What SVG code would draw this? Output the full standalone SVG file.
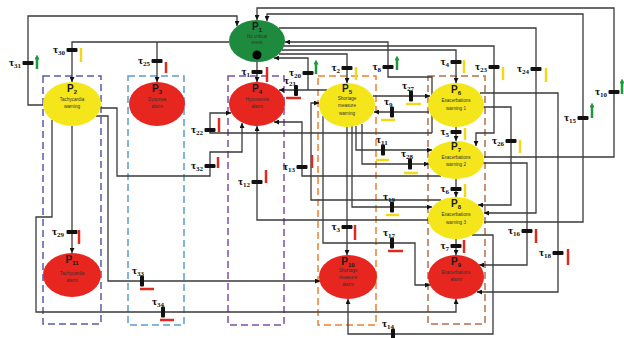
<svg xmlns="http://www.w3.org/2000/svg" width="624" height="338" viewBox="0 0 624 338">
<defs>
<marker id="ar" viewBox="0 0 6 6" refX="6" refY="3" markerWidth="5" markerHeight="5" orient="auto" markerUnits="userSpaceOnUse"><path d="M0,0 L6,3 L0,6 z" fill="#111"/></marker>
<marker id="ga" viewBox="0 0 6 6" refX="3" refY="3" markerWidth="5" markerHeight="5" orient="auto" markerUnits="userSpaceOnUse"><path d="M0,0 L6,3 L0,6 z" fill="#1f9a3a"/></marker>
</defs>
<style>
.c{fill:none;stroke:#3a3a3a;stroke-width:1.3;marker-end:url(#ar)}
.bar{fill:#111}
.t{font-family:"Liberation Serif",serif;font-weight:bold;font-size:11px;fill:#111}
.ts{font-size:7px}
.g{stroke:#1f9a3a;stroke-width:2.5;fill:none;marker-end:url(#ga)}
.y{stroke:#f2d81a;stroke-width:2.5;fill:none}
.r{stroke:#e02a20;stroke-width:2.5;fill:none}
.pl{font-family:"Liberation Sans",sans-serif;font-weight:bold;font-size:10px;fill:#1a1a1a;text-anchor:middle}
.ps{font-size:6px}
.sub{font-family:"Liberation Sans",sans-serif;font-size:4.6px;fill:#333;text-anchor:middle}
.box{fill:none;stroke-width:1.5;stroke-dasharray:7 4}
.green{fill:#1e8a3e}
.yel{fill:#f5e61c}
.red{fill:#e6261f}
</style>
<rect width="624" height="338" fill="#fff"/>
<g id="boxes">
<rect class="box" x="43" y="76" width="58" height="248" stroke="#5a5aa8"/>
<rect class="box" x="128" y="76" width="56" height="249" stroke="#5b9bd5"/>
<rect class="box" x="228" y="76" width="56" height="249" stroke="#7a4fb0"/>
<rect class="box" x="318" y="76" width="58" height="249" stroke="#f08030"/>
<rect class="box" x="428" y="76" width="57" height="248" stroke="#b5704a"/>
</g>
<g id="connectors">
<path class="c" d="M43,105 H28 V16 H237 V26"/>
<path class="c" d="M229,42 H72 V82"/>
<path class="c" d="M157,42 V82"/>
<path class="c" d="M257,62 V82"/>
<path class="c" d="M308,90 V58 H274"/>
<path class="c" d="M327,90 H279"/>
<path class="c" d="M279,54 H347 V83"/>
<path class="c" d="M432,133 V77 H388 V42 H285"/>
<path class="c" d="M282,50 H456 V83"/>
<path class="c" d="M284,46 H494 V133 H476 V146"/>
<path class="c" d="M279,28 H536 V213 H484"/>
<path class="c" d="M484,222 H583 V14 H267 V21"/>
<path class="c" d="M484,157 H614 V8 H257 V20"/>
<path class="c" d="M373,96 H430"/>
<path class="c" d="M429,112 H374"/>
<path class="c" d="M456,127 V141"/>
<path class="c" d="M456,179 V197"/>
<path class="c" d="M456,239 V255"/>
<path class="c" d="M483,107 H511 V205 H478"/>
<path class="c" d="M480,93 H558 V292 H477"/>
<path class="c" d="M483,163 H527 V265 H479"/>
<path class="c" d="M472,235 H493 V334 H348 V299"/>
<path class="c" d="M356,126 V150 H432"/>
<path class="c" d="M362,124 V164 H429"/>
<path class="c" d="M352,126 V207 H432"/>
<path class="c" d="M347,127 V255"/>
<path class="c" d="M428,220 H257 V126"/>
<path class="c" d="M441,176 H302 V122 H274"/>
<path class="c" d="M432,133 H210 V113 H231"/>
<path class="c" d="M100,108 H117 V176 H210 V152 H242 V123"/>
<path class="c" d="M96,116 H108 V281 H320"/>
<path class="c" d="M52,120 V217 H36 V312 H456 V299"/>
<path class="c" d="M72,126 V253"/>
<path class="c" d="M323,116 V243 H415 V285 H430"/>
<path class="c" d="M441,200 H311 V103 H319"/>
</g>
<g id="P1"><ellipse class="green" cx="257" cy="41" rx="28" ry="21"/><text class="pl" x="257" y="30">P<tspan class="ps" dy="2">1</tspan></text><text class="sub" x="257" y="38">No critical</text><text class="sub" x="257" y="44">event</text><circle cx="257" cy="55" r="4.5" fill="#000"/></g>
<g id="P2"><ellipse class="yel" cx="72" cy="104" rx="29" ry="22"/><text class="pl" x="72" y="92">P<tspan class="ps" dy="2">2</tspan></text><text class="sub" x="72" y="101">Tachycardia</text><text class="sub" x="72" y="108">warning</text></g>
<g id="P3"><ellipse class="red" cx="157" cy="104" rx="28" ry="22"/><text class="pl" x="157" y="92">P<tspan class="ps" dy="2">3</tspan></text><text class="sub" x="157" y="101">Dyspnea</text><text class="sub" x="157" y="108">alarm</text></g>
<g id="P4"><ellipse class="red" cx="257" cy="104" rx="28" ry="22"/><text class="pl" x="257" y="92">P<tspan class="ps" dy="2">4</tspan></text><text class="sub" x="257" y="101">Hypoxemia</text><text class="sub" x="257" y="108">alarm</text></g>
<g id="P5"><ellipse class="yel" cx="347" cy="105" rx="28" ry="22"/><text class="pl" x="347" y="92">P<tspan class="ps" dy="2">5</tspan></text><text class="sub" x="347" y="100">Shortage</text><text class="sub" x="347" y="107">measure</text><text class="sub" x="347" y="115">warning</text></g>
<g id="P6"><ellipse class="yel" cx="456" cy="105" rx="28" ry="22"/><text class="pl" x="456" y="93">P<tspan class="ps" dy="2">6</tspan></text><text class="sub" x="456" y="102">Exacerbations</text><text class="sub" x="456" y="110">warning 1</text></g>
<g id="P7"><ellipse class="yel" cx="456" cy="160" rx="28" ry="19"/><text class="pl" x="456" y="150">P<tspan class="ps" dy="2">7</tspan></text><text class="sub" x="456" y="159">Exacerbations</text><text class="sub" x="456" y="166">warning 2</text></g>
<g id="P8"><ellipse class="yel" cx="456" cy="218" rx="28" ry="21"/><text class="pl" x="456" y="207">P<tspan class="ps" dy="2">8</tspan></text><text class="sub" x="456" y="216">Exacerbations</text><text class="sub" x="456" y="224">warning 3</text></g>
<g id="P9"><ellipse class="red" cx="456" cy="277" rx="28" ry="22"/><text class="pl" x="456" y="265">P<tspan class="ps" dy="2">9</tspan></text><text class="sub" x="456" y="274">Exacerbations</text><text class="sub" x="456" y="281">alarm</text></g>
<g id="P10"><ellipse class="red" cx="348" cy="277" rx="29" ry="22"/><text class="pl" x="348" y="265">P<tspan class="ps" dy="2">10</tspan></text><text class="sub" x="348" y="272">Shortage</text><text class="sub" x="348" y="279">measure</text><text class="sub" x="348" y="286">alarm</text></g>
<g id="P11"><ellipse class="red" cx="72" cy="275" rx="29" ry="22"/><text class="pl" x="72" y="263">P<tspan class="ps" dy="2">11</tspan></text><text class="sub" x="72" y="275">Tachycardia</text><text class="sub" x="72" y="282">alarm</text></g>
<g id="T31"><rect class="bar" x="22.5" y="61" width="11" height="4" rx="1"/><text class="t" x="21" y="66" text-anchor="end">τ<tspan class="ts" dy="2">31</tspan></text><path class="g" d="M37,69 V57"/></g>
<g id="T30"><rect class="bar" x="66.5" y="48" width="11" height="4" rx="1"/><text class="t" x="65" y="53" text-anchor="end">τ<tspan class="ts" dy="2">30</tspan></text><path class="y" d="M81,48 V62"/></g>
<g id="T25"><rect class="bar" x="151.5" y="59" width="11" height="4" rx="1"/><text class="t" x="150" y="64" text-anchor="end">τ<tspan class="ts" dy="2">25</tspan></text><path class="r" d="M166,62 V73"/></g>
<g id="T1"><rect class="bar" x="251.5" y="70" width="11" height="4" rx="1"/><text class="t" x="250" y="75" text-anchor="end">τ<tspan class="ts" dy="2">1</tspan></text><path class="r" d="M267,67 V82"/></g>
<g id="T20"><rect class="bar" x="302.5" y="71" width="11" height="4" rx="1"/><text class="t" x="301" y="76" text-anchor="end">τ<tspan class="ts" dy="2">20</tspan></text><path class="g" d="M316,74 V62"/></g>
<g id="T21"><rect class="bar" x="294" y="85" width="4" height="11" rx="1"/><text class="t" x="284" y="84">τ<tspan class="ts" dy="2">21</tspan></text><path class="r" d="M286,98 H301"/></g>
<g id="T2"><rect class="bar" x="341.5" y="66" width="11" height="4" rx="1"/><text class="t" x="340" y="71" text-anchor="end">τ<tspan class="ts" dy="2">2</tspan></text><path class="y" d="M356,67 V80"/></g>
<g id="T8"><rect class="bar" x="382.5" y="65" width="11" height="4" rx="1"/><text class="t" x="381" y="70" text-anchor="end">τ<tspan class="ts" dy="2">8</tspan></text><path class="g" d="M397,70 V58"/></g>
<g id="T4"><rect class="bar" x="450.5" y="60" width="11" height="4" rx="1"/><text class="t" x="449" y="65" text-anchor="end">τ<tspan class="ts" dy="2">4</tspan></text><path class="y" d="M464,60 V73"/></g>
<g id="T23"><rect class="bar" x="488.5" y="65" width="11" height="4" rx="1"/><text class="t" x="487" y="70" text-anchor="end">τ<tspan class="ts" dy="2">23</tspan></text><path class="y" d="M503,67 V80"/></g>
<g id="T24"><rect class="bar" x="530.5" y="67" width="11" height="4" rx="1"/><text class="t" x="529" y="72" text-anchor="end">τ<tspan class="ts" dy="2">24</tspan></text><path class="y" d="M546,68 V82"/></g>
<g id="T15"><rect class="bar" x="577.5" y="116" width="11" height="4" rx="1"/><text class="t" x="576" y="121" text-anchor="end">τ<tspan class="ts" dy="2">15</tspan></text><path class="g" d="M592,118 V105"/></g>
<g id="T10"><rect class="bar" x="608.5" y="90" width="11" height="4" rx="1"/><text class="t" x="607" y="95" text-anchor="end">τ<tspan class="ts" dy="2">10</tspan></text><path class="g" d="M622,94 V81"/></g>
<g id="T27"><rect class="bar" x="409" y="90.5" width="4" height="11" rx="1"/><text class="t" x="402" y="89">τ<tspan class="ts" dy="2">27</tspan></text><path class="y" d="M406,104 H421"/></g>
<g id="T9"><rect class="bar" x="390" y="106.5" width="4" height="11" rx="1"/><text class="t" x="384" y="105">τ<tspan class="ts" dy="2">9</tspan></text><path class="y" d="M381,120 H395"/></g>
<g id="T5"><rect class="bar" x="450.5" y="130" width="11" height="4" rx="1"/><text class="t" x="449" y="135" text-anchor="end">τ<tspan class="ts" dy="2">5</tspan></text><path class="y" d="M465,128 V140"/></g>
<g id="T6"><rect class="bar" x="450.5" y="187" width="11" height="4" rx="1"/><text class="t" x="449" y="192" text-anchor="end">τ<tspan class="ts" dy="2">6</tspan></text><path class="y" d="M465,184 V197"/></g>
<g id="T7"><rect class="bar" x="450.5" y="244" width="11" height="4" rx="1"/><text class="t" x="449" y="249" text-anchor="end">τ<tspan class="ts" dy="2">7</tspan></text><path class="r" d="M464,240 V253"/></g>
<g id="T26"><rect class="bar" x="505.5" y="139" width="11" height="4" rx="1"/><text class="t" x="504" y="144" text-anchor="end">τ<tspan class="ts" dy="2">26</tspan></text><path class="y" d="M520,140 V153"/></g>
<g id="T16"><rect class="bar" x="521.5" y="229" width="11" height="4" rx="1"/><text class="t" x="520" y="234" text-anchor="end">τ<tspan class="ts" dy="2">16</tspan></text><path class="r" d="M536,229 V243"/></g>
<g id="T18"><rect class="bar" x="552.5" y="251" width="11" height="4" rx="1"/><text class="t" x="551" y="256" text-anchor="end">τ<tspan class="ts" dy="2">18</tspan></text><path class="r" d="M568,249 V265"/></g>
<g id="T11"><rect class="bar" x="381" y="144.5" width="4" height="11" rx="1"/><text class="t" x="376" y="143">τ<tspan class="ts" dy="2">11</tspan></text><path class="y" d="M376,160 H389"/></g>
<g id="T28"><rect class="bar" x="408" y="158.5" width="4" height="11" rx="1"/><text class="t" x="401" y="157">τ<tspan class="ts" dy="2">28</tspan></text><path class="y" d="M404,173 H418"/></g>
<g id="T19"><rect class="bar" x="390" y="201.5" width="4" height="11" rx="1"/><text class="t" x="383" y="200">τ<tspan class="ts" dy="2">19</tspan></text><path class="y" d="M386,215 H399"/></g>
<g id="T17"><rect class="bar" x="390" y="237.5" width="4" height="11" rx="1"/><text class="t" x="383" y="236">τ<tspan class="ts" dy="2">17</tspan></text><path class="r" d="M388,251 H403"/></g>
<g id="T3"><rect class="bar" x="341.5" y="225" width="11" height="4" rx="1"/><text class="t" x="340" y="230" text-anchor="end">τ<tspan class="ts" dy="2">3</tspan></text><path class="r" d="M355,225 V240"/></g>
<g id="T12"><rect class="bar" x="251.5" y="180" width="11" height="4" rx="1"/><text class="t" x="250" y="185" text-anchor="end">τ<tspan class="ts" dy="2">12</tspan></text><path class="r" d="M266,170 V183"/></g>
<g id="T13"><rect class="bar" x="296.5" y="165" width="11" height="4" rx="1"/><text class="t" x="295" y="170" text-anchor="end">τ<tspan class="ts" dy="2">13</tspan></text><path class="r" d="M312,155 V168"/></g>
<g id="T22"><rect class="bar" x="204.5" y="128" width="11" height="4" rx="1"/><text class="t" x="203" y="133" text-anchor="end">τ<tspan class="ts" dy="2">22</tspan></text><path class="r" d="M219,118 V132"/></g>
<g id="T32"><rect class="bar" x="204.5" y="164" width="11" height="4" rx="1"/><text class="t" x="203" y="169" text-anchor="end">τ<tspan class="ts" dy="2">32</tspan></text><path class="r" d="M218,157 V168"/></g>
<g id="T29"><rect class="bar" x="66.5" y="230" width="11" height="4" rx="1"/><text class="t" x="64" y="235" text-anchor="end">τ<tspan class="ts" dy="2">29</tspan></text><path class="r" d="M79,230 V244"/></g>
<g id="T33"><rect class="bar" x="140" y="275.5" width="4" height="11" rx="1"/><text class="t" x="132" y="274">τ<tspan class="ts" dy="2">33</tspan></text><path class="r" d="M140,289 H154"/></g>
<g id="T34"><rect class="bar" x="161" y="306.5" width="4" height="11" rx="1"/><text class="t" x="152" y="305">τ<tspan class="ts" dy="2">34</tspan></text><path class="r" d="M160,320 H174"/></g>
<g id="T14"><rect class="bar" x="391" y="328.5" width="4" height="10" rx="1"/><text class="t" x="382" y="327">τ<tspan class="ts" dy="2">14</tspan></text></g>
</svg>
